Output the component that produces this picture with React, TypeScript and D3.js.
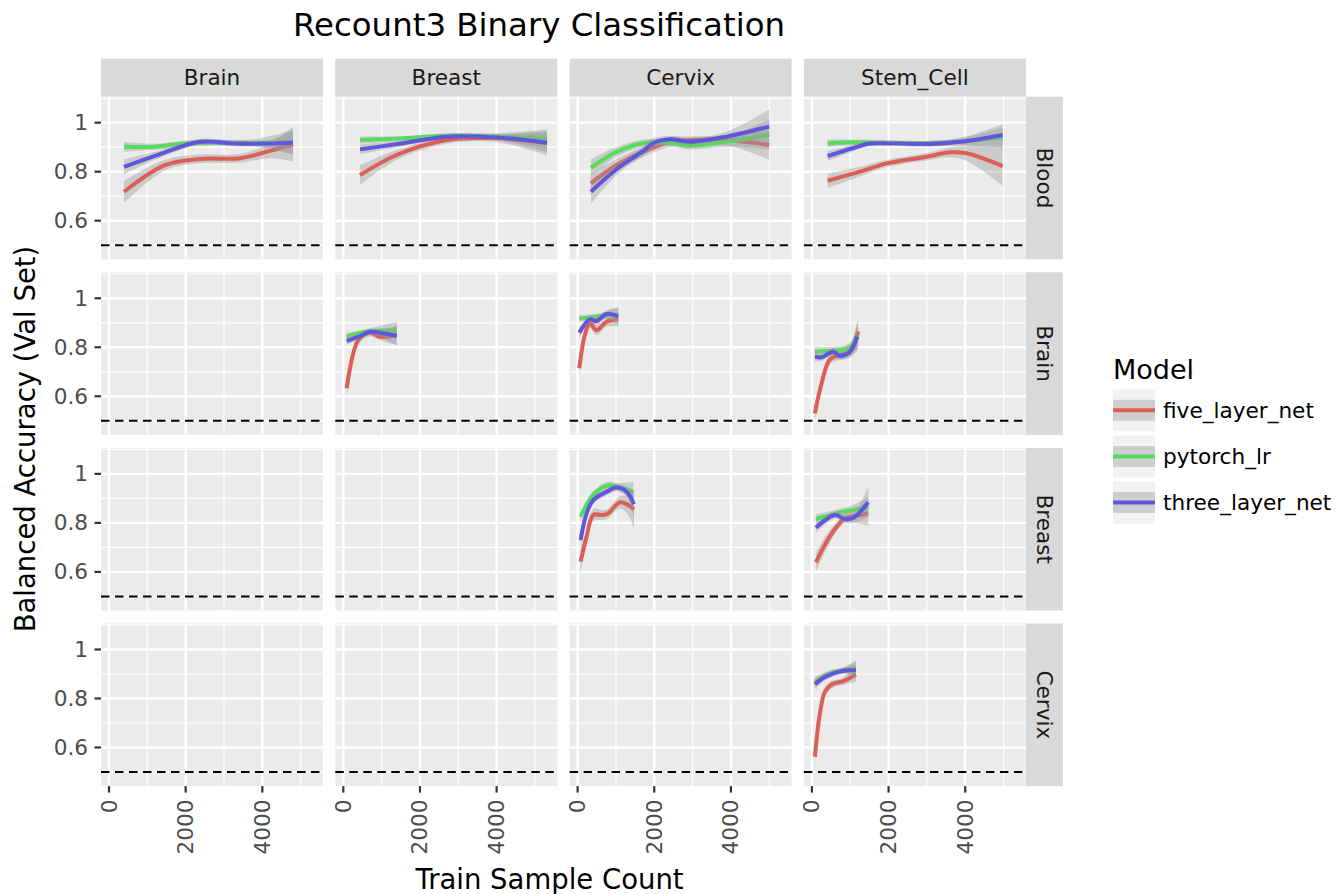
import React from "react";
import * as d3 from "d3";

const rowNames = ["Blood", "Brain", "Breast", "Cervix"];
const colNames = ["Brain", "Breast", "Cervix", "Stem_Cell"];
const models = ["five_layer_net", "pytorch_lr", "three_layer_net"];
const modelColors = ["#db5f57", "#57db5f", "#5f57db"];
const xTicks = [0, 2000, 4000];
const xMinor = [1000, 3000, 5000];
const yTicks = [0.6, 0.8, 1.0];
const yTickLabels = ["0.6", "0.8", "1"];
const yMinor = [0.5, 0.7, 0.9, 1.1];

// each point: [train sample count, balanced accuracy, half-width of confidence band]
type P = [number, number, number];

const bloodBrain: P[][] = [
  [[390, 0.718, 0.045], [1460, 0.827, 0.022], [2375, 0.852, 0.018], [3420, 0.855, 0.018], [4200, 0.885, 0.03], [4800, 0.912, 0.07]],
  [[390, 0.902, 0.02], [1200, 0.902, 0.012], [2000, 0.915, 0.012], [2800, 0.918, 0.012], [3800, 0.918, 0.015], [4800, 0.92, 0.05]],
  [[390, 0.82, 0.03], [1300, 0.87, 0.015], [2375, 0.922, 0.012], [3300, 0.915, 0.012], [4200, 0.915, 0.015], [4800, 0.918, 0.05]],
];
const bloodBreast: P[][] = [
  [[436, 0.786, 0.04], [1390, 0.868, 0.02], [2700, 0.929, 0.015], [4000, 0.936, 0.015], [5315, 0.916, 0.05]],
  [[436, 0.929, 0.015], [1500, 0.935, 0.01], [2700, 0.947, 0.01], [4000, 0.945, 0.012], [5315, 0.932, 0.04]],
  [[436, 0.891, 0.02], [1500, 0.915, 0.012], [2700, 0.943, 0.01], [4000, 0.94, 0.012], [5315, 0.918, 0.04]],
];
const bloodCervix: P[][] = [
  [[347, 0.752, 0.04], [1017, 0.827, 0.025], [1712, 0.881, 0.02], [2408, 0.922, 0.02], [2930, 0.929, 0.015], [3887, 0.929, 0.02], [4999, 0.909, 0.06]],
  [[347, 0.816, 0.035], [1017, 0.881, 0.02], [1712, 0.916, 0.015], [2408, 0.918, 0.015], [2930, 0.906, 0.015], [3887, 0.922, 0.02], [4999, 0.952, 0.06]],
  [[347, 0.718, 0.05], [1017, 0.81, 0.025], [1712, 0.885, 0.02], [1973, 0.916, 0.02], [2408, 0.932, 0.015], [2930, 0.922, 0.015], [3887, 0.943, 0.02], [4999, 0.984, 0.07]],
];
const bloodStem: P[][] = [
  [[410, 0.763, 0.03], [1252, 0.8, 0.02], [1954, 0.834, 0.015], [2992, 0.861, 0.015], [3600, 0.879, 0.02], [4035, 0.875, 0.03], [4975, 0.823, 0.08]],
  [[410, 0.916, 0.015], [1252, 0.92, 0.01], [2992, 0.916, 0.01], [3861, 0.922, 0.015], [4975, 0.939, 0.04]],
  [[410, 0.864, 0.02], [1252, 0.905, 0.012], [1513, 0.915, 0.01], [2992, 0.913, 0.01], [3861, 0.922, 0.015], [4975, 0.95, 0.045]],
];
const brainBreast: P[][] = [
  [[88, 0.633, 0.04], [393, 0.83, 0.02], [697, 0.859, 0.015], [957, 0.843, 0.015], [1392, 0.85, 0.04]],
  [[88, 0.843, 0.015], [697, 0.866, 0.012], [1392, 0.868, 0.035]],
  [[88, 0.826, 0.015], [393, 0.843, 0.012], [697, 0.863, 0.012], [957, 0.859, 0.015], [1392, 0.847, 0.04]],
];
const brainCervix: P[][] = [
  [[43, 0.714, 0.03], [190, 0.85, 0.025], [321, 0.898, 0.02], [496, 0.87, 0.02], [757, 0.904, 0.02], [1060, 0.914, 0.03]],
  [[43, 0.918, 0.015], [321, 0.922, 0.012], [757, 0.93, 0.015], [1060, 0.935, 0.03]],
  [[43, 0.859, 0.02], [321, 0.914, 0.015], [496, 0.907, 0.015], [757, 0.936, 0.015], [1060, 0.925, 0.035]],
];
const brainStem: P[][] = [
  [[78, 0.53, 0.03], [253, 0.653, 0.025], [470, 0.751, 0.02], [731, 0.768, 0.02], [992, 0.782, 0.025], [1208, 0.864, 0.06]],
  [[78, 0.782, 0.02], [731, 0.789, 0.015], [992, 0.8, 0.02], [1208, 0.843, 0.05]],
  [[78, 0.762, 0.02], [253, 0.759, 0.015], [550, 0.782, 0.015], [731, 0.765, 0.015], [992, 0.782, 0.02], [1180, 0.843, 0.06]],
];
const breastCervix: P[][] = [
  [[78, 0.642, 0.05], [235, 0.744, 0.03], [407, 0.832, 0.025], [670, 0.832, 0.02], [800, 0.839, 0.02], [1104, 0.884, 0.025], [1321, 0.873, 0.04], [1471, 0.855, 0.08]],
  [[78, 0.825, 0.02], [407, 0.914, 0.015], [757, 0.952, 0.015], [1060, 0.948, 0.015], [1452, 0.927, 0.04]],
  [[78, 0.73, 0.03], [235, 0.839, 0.02], [407, 0.893, 0.015], [757, 0.927, 0.015], [1017, 0.944, 0.015], [1278, 0.927, 0.02], [1471, 0.876, 0.05]],
];
const breastStem: P[][] = [
  [[104, 0.639, 0.04], [383, 0.723, 0.03], [644, 0.784, 0.02], [861, 0.819, 0.02], [1078, 0.826, 0.025], [1470, 0.839, 0.05]],
  [[104, 0.816, 0.02], [644, 0.839, 0.015], [1078, 0.853, 0.02], [1470, 0.866, 0.04]],
  [[104, 0.78, 0.02], [600, 0.832, 0.015], [861, 0.816, 0.015], [1078, 0.82, 0.02], [1470, 0.884, 0.06]],
];
const cervixStem: P[][] = [
  [[78, 0.562, 0.04], [209, 0.739, 0.03], [339, 0.827, 0.02], [514, 0.857, 0.015], [818, 0.871, 0.015], [1148, 0.898, 0.03]],
  [[78, 0.868, 0.02], [514, 0.905, 0.012], [818, 0.915, 0.012], [1148, 0.925, 0.03]],
  [[78, 0.858, 0.02], [339, 0.888, 0.015], [818, 0.913, 0.012], [1148, 0.915, 0.035]],
];

// [row][col]
const panelData: (P[][] | null)[][] = [
  [bloodBrain, bloodBreast, bloodCervix, bloodStem],
  [null, brainBreast, brainCervix, brainStem],
  [null, null, breastCervix, breastStem],
  [null, null, null, cervixStem],
];

const FONT = "DejaVu Sans, Verdana, sans-serif";
const panelLeft = 101;
const panelW = 222;
const colStep = 234.3;
const panelTop = 96.7;
const panelH = 162.6;
const rowStep = 175.6;
const stripH = 38;
const stripW = 37;

const x = d3.scaleLinear().domain([-209, 5583]).range([0, panelW]);
const y = d3.scaleLinear().domain([0.4424, 1.106]).range([panelH, 0]);

const line = d3
  .line<P>()
  .x((d) => x(d[0]))
  .y((d) => y(d[1]))
  .curve(d3.curveCatmullRom.alpha(0.5));
const area = d3
  .area<P>()
  .x((d) => x(d[0]))
  .y0((d) => y(d[1] - d[2]))
  .y1((d) => y(d[1] + d[2]))
  .curve(d3.curveCatmullRom.alpha(0.5));

function Panel({ r, c }: { r: number; c: number }) {
  const data = panelData[r][c];
  const px = panelLeft + c * colStep;
  const py = panelTop + r * rowStep;
  return (
    <g transform={`translate(${px},${py})`}>
      <rect width={panelW} height={panelH} fill="#ebebeb" />
      {xMinor.map((v) => (
        <line key={"xm" + v} x1={x(v)} x2={x(v)} y1={0} y2={panelH} stroke="#fff" strokeWidth={1.2} />
      ))}
      {yMinor.map((v) => (
        <line key={"ym" + v} x1={0} x2={panelW} y1={y(v)} y2={y(v)} stroke="#fff" strokeWidth={1.2} />
      ))}
      {xTicks.map((v) => (
        <line key={"xM" + v} x1={x(v)} x2={x(v)} y1={0} y2={panelH} stroke="#fff" strokeWidth={2.4} />
      ))}
      {yTicks.map((v) => (
        <line key={"yM" + v} x1={0} x2={panelW} y1={y(v)} y2={y(v)} stroke="#fff" strokeWidth={2.4} />
      ))}
      {data &&
        data.map((s, i) => (
          <g key={i}>
            <path d={area(s) || ""} fill="#999999" fillOpacity={0.4} />
            <path d={line(s) || ""} fill="none" stroke={modelColors[i]} strokeWidth={4} />
          </g>
        ))}
      <line x1={0} x2={panelW} y1={y(0.5)} y2={y(0.5)} stroke="#000" strokeWidth={2} strokeDasharray="8.5,5.5" />
    </g>
  );
}

export default function App() {
  const cells: React.ReactNode[] = [];
  rowNames.forEach((_, r) => colNames.forEach((__, c) => cells.push(<Panel key={`${r}-${c}`} r={r} c={c} />)));
  const bottom = panelTop + 3 * rowStep + panelH;
  const legendX = 1113;
  const legendKeys = [389.3, 435.5, 481.5];
  return (
    <svg width={1343} height={894} style={{ position: "absolute", left: 0, top: 0, fontFamily: FONT }}>
      <rect width={1343} height={894} fill="#fff" />
      <text x={539} y={36} textAnchor="middle" fontSize={32.4} fill="#000">
        Recount3 Binary Classification
      </text>
      {colNames.map((n, c) => (
        <g key={n} transform={`translate(${panelLeft + c * colStep},${panelTop - stripH})`}>
          <rect width={panelW} height={stripH} fill="#d9d9d9" />
          <text x={panelW / 2} y={stripH / 2} textAnchor="middle" dominantBaseline="central" fontSize={21.6} fill="#1a1a1a">
            {n}
          </text>
        </g>
      ))}
      {rowNames.map((n, r) => (
        <g key={n} transform={`translate(${panelLeft + 3 * colStep + panelW},${panelTop + r * rowStep})`}>
          <rect width={stripW} height={panelH} fill="#d9d9d9" />
          <text
            transform={`translate(${stripW / 2},${panelH / 2}) rotate(90)`}
            textAnchor="middle"
            dominantBaseline="central"
            fontSize={21.6}
            fill="#1a1a1a"
          >
            {n}
          </text>
        </g>
      ))}
      {cells}
      {rowNames.map((n, r) => (
        <g key={"ya" + n} transform={`translate(${panelLeft},${panelTop + r * rowStep})`}>
          {yTicks.map((v, i) => (
            <g key={v}>
              <line x1={-6.5} x2={0} y1={y(v)} y2={y(v)} stroke="#333" strokeWidth={2.2} />
              <text x={-13} y={y(v)} textAnchor="end" dominantBaseline="central" fontSize={21.6} fill="#4d4d4d">
                {yTickLabels[i]}
              </text>
            </g>
          ))}
        </g>
      ))}
      {colNames.map((n, c) => (
        <g key={"xa" + n} transform={`translate(${panelLeft + c * colStep},${bottom})`}>
          {xTicks.map((v) => (
            <g key={v}>
              <line x1={x(v)} x2={x(v)} y1={0} y2={6.5} stroke="#333" strokeWidth={2.2} />
              <text
                transform={`translate(${x(v)},${13.5}) rotate(-90)`}
                textAnchor="end"
                dominantBaseline="central"
                fontSize={21.6}
                fill="#4d4d4d"
              >
                {v}
              </text>
            </g>
          ))}
        </g>
      ))}
      <text x={549.5} y={889} textAnchor="middle" fontSize={27.5} fill="#000">
        Train Sample Count
      </text>
      <text transform={`translate(35,439) rotate(-90)`} textAnchor="middle" fontSize={27.5} fill="#000">
        Balanced Accuracy (Val Set)
      </text>
      <text x={legendX} y={379} fontSize={27} fill="#000">
        Model
      </text>
      {models.map((m, i) => (
        <g key={m} transform={`translate(${legendX},${legendKeys[i]})`}>
          <rect width={42} height={42} fill="#f2f2f2" />
          <rect y={10.5} width={42} height={21} fill="#999999" fillOpacity={0.4} />
          <line x1={0} x2={42} y1={21} y2={21} stroke={modelColors[i]} strokeWidth={4} />
          <text x={50} y={21} dominantBaseline="central" fontSize={21.6} fill="#000">
            {m}
          </text>
        </g>
      ))}
    </svg>
  );
}
